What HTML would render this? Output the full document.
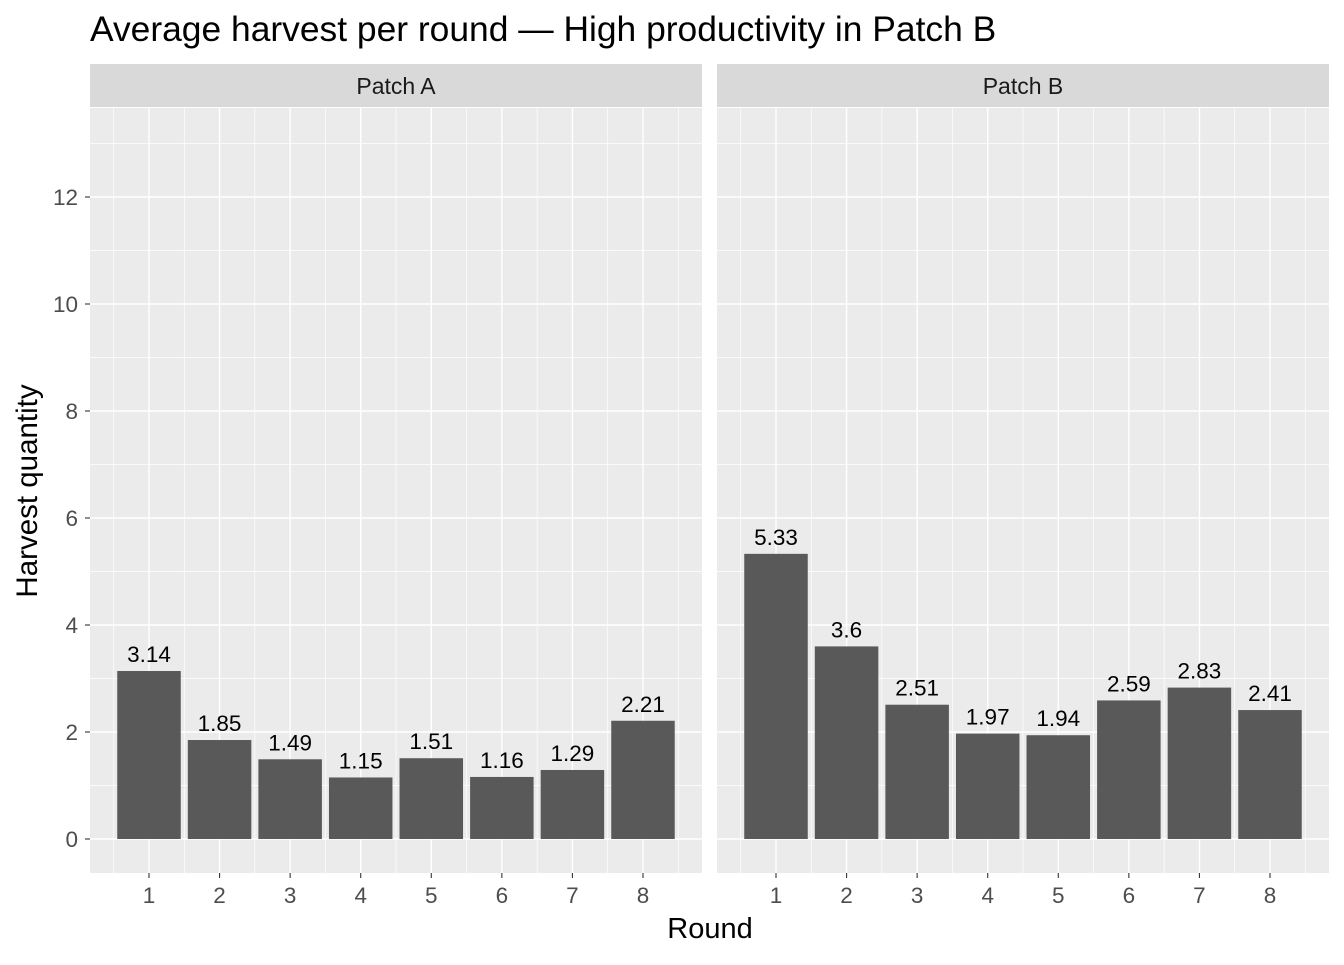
<!DOCTYPE html>
<html><head><meta charset="utf-8"><style>
body{margin:0;background:#fff;}
svg text{font-family:"Liberation Sans",sans-serif;}
</style></head><body>
<svg id="chart" width="1344" height="960" xmlns="http://www.w3.org/2000/svg">
<text x="90" y="41" font-size="35.4" fill="#000">Average harvest per round — High productivity in Patch B</text>
<text x="710" y="938" font-size="29" text-anchor="middle" fill="#000">Round</text>
<text transform="translate(37,491) rotate(-90)" font-size="29.5" text-anchor="middle" fill="#000">Harvest quantity</text>
</svg>
<script>
const panels = ["Patch A","Patch B"];
const rounds = [1,2,3,4,5,6,7,8];
const valuesA = [3.14,1.85,1.49,1.15,1.51,1.16,1.29,2.21];
const valuesB = [5.33,3.6,2.51,1.97,1.94,2.59,2.83,2.41];
const yTicks = [0,2,4,6,8,10,12];
const labelsA = ["3.14","1.85","1.49","1.15","1.51","1.16","1.29","2.21"];
const labelsB = ["5.33","3.6","2.51","1.97","1.94","2.59","2.83","2.41"];

const svg = document.getElementById('chart');
const NS = "http://www.w3.org/2000/svg";
const panelLefts = [90,717], panelW = 612, plotTop = 108, plotBottom = 873;
const yS = v => 839 - v*53.5;
const xs = (p,v) => panelLefts[p] + 59 + (v-1)*70.57;
function mk(tag, attrs, parent){const e=document.createElementNS(NS,tag);for(const k in attrs)e.setAttribute(k,attrs[k]);(parent||svg).appendChild(e);return e;}

const series=[valuesA,valuesB], labs=[labelsA,labelsB];
panels.forEach((name,p)=>{
  const L=panelLefts[p];
  const g=mk('g',{});
  
  
  const bg=mk('rect',{x:L,y:plotTop,width:panelW,height:plotBottom-plotTop,fill:'#ebebeb'},g);
  
  
  const st=mk('rect',{x:L,y:64,width:panelW,height:43,fill:'#d9d9d9'},g);
  
  
  const stt=mk('text',{x:L+panelW/2,y:94,'font-size':'23','text-anchor':'middle',fill:'#1a1a1a'},g);
  stt.textContent=name;
  
  
  for(let v=1;v<=13;v+=2){const l=mk('line',{x1:L,x2:L+panelW,y1:yS(v),y2:yS(v),stroke:'#fff','stroke-width':0.7},g);
    }
  for(let v=0.5;v<=8.5;v+=1){const l=mk('line',{x1:xs(p,v),x2:xs(p,v),y1:plotTop,y2:plotBottom,stroke:'#fff','stroke-width':0.7},g);
    }
  yTicks.forEach(v=>{const l=mk('line',{x1:L,x2:L+panelW,y1:yS(v),y2:yS(v),stroke:'#fff','stroke-width':1.4},g);
    });
  rounds.forEach(r=>{const l=mk('line',{x1:xs(p,r),x2:xs(p,r),y1:plotTop,y2:plotBottom,stroke:'#fff','stroke-width':1.4},g);
    });
  rounds.forEach((r,i)=>{
    const v=series[p][i];
    const b=mk('rect',{x:xs(p,r)-31.75,y:yS(v),width:63.5,height:yS(0)-yS(v),fill:'#595959'},g);
    
    
    const t=mk('text',{x:xs(p,r),y:yS(v)-9,'font-size':'22.5','text-anchor':'middle',fill:'#000'},g);
    t.textContent=labs[p][i];
    
    
    const tk=mk('line',{x1:xs(p,r),x2:xs(p,r),y1:plotBottom,y2:plotBottom+5,stroke:'#333','stroke-width':1.1},g);
    
    const tl=mk('text',{x:xs(p,r),y:903,'font-size':'22.5','text-anchor':'middle',fill:'#4d4d4d'},g);
    tl.textContent=r;
    
    
  });
});
yTicks.forEach(v=>{
  const tk=mk('line',{x1:85,x2:90,y1:yS(v),y2:yS(v),stroke:'#333','stroke-width':1.1});
  
  const t=mk('text',{x:78,y:yS(v)+8,'font-size':'22.5','text-anchor':'end',fill:'#4d4d4d'});
  t.textContent=v;
  
  
});
</script>
</body></html>
